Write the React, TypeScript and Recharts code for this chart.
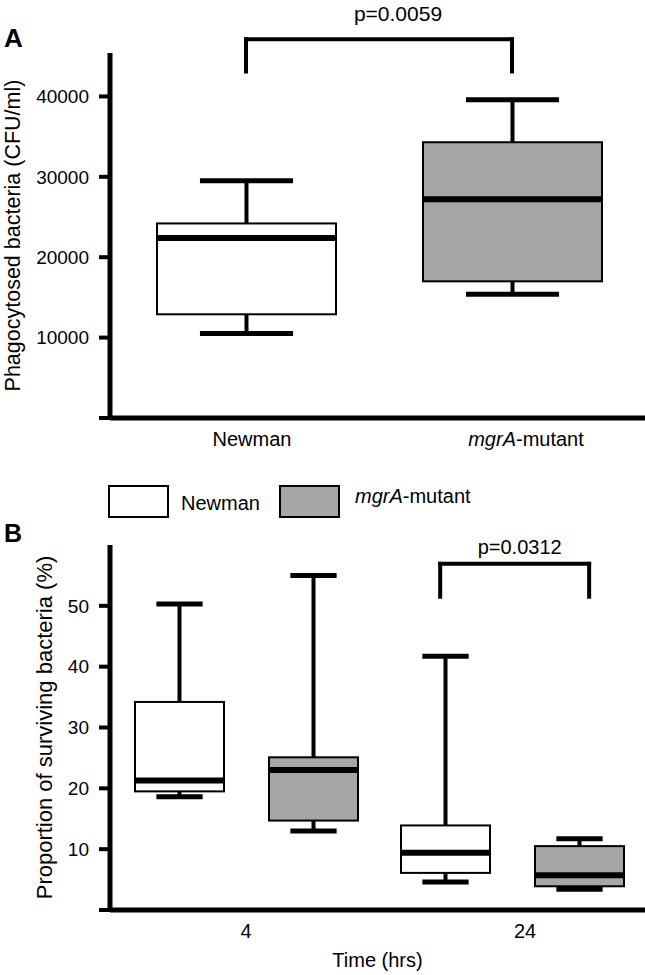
import React from "react";
import { ComposedChart, Bar, XAxis, YAxis, ReferenceLine } from "recharts";

const FONT = "'Liberation Sans', Arial, Helvetica, sans-serif";
const GRAY = "#a6a6a6";

// panel A - phagocytosed bacteria (CFU/ml)
const strainsA = ["Newman", "mgrA-mutant"];
const fillsA = ["#ffffff", GRAY];
const minA = [10500, 15400];
const q1A = [12900, 17000];
const medA = [22400, 27200];
const q3A = [24200, 34300];
const maxA = [29500, 39600];
const ticksA = [0, 10000, 20000, 30000, 40000];

// panel B - surviving bacteria (%)
const timesB = ["4", "24"];
const newmanMinB = [18.6, 4.6];
const newmanQ1B = [19.5, 6.1];
const newmanMedB = [21.3, 9.4];
const newmanQ3B = [34.2, 13.9];
const newmanMaxB = [50.3, 41.7];
const mgraMinB = [13.0, 3.4];
const mgraQ1B = [14.7, 3.9];
const mgraMedB = [23.0, 5.7];
const mgraQ3B = [25.1, 10.5];
const mgraMaxB = [55.0, 11.7];
const ticksB = [0, 10, 20, 30, 40, 50];

const seriesB = [
  { key: "newman", name: "Newman", fill: "#ffffff" },
  { key: "mgra", name: "mgrA-mutant", fill: GRAY },
];

const dataA = strainsA.map((s, i) => ({
  strain: s,
  pos: i + 0.5,
  range: [minA[i], maxA[i]],
  rangeQ: [q1A[i], medA[i], q3A[i]],
  fill: fillsA[i],
}));

const dataB = timesB.map((t, i) => ({
  time: t,
  pos: i + 0.5,
  newman: [newmanMinB[i], newmanMaxB[i]],
  newmanQ: [newmanQ1B[i], newmanMedB[i], newmanQ3B[i]],
  mgra: [mgraMinB[i], mgraMaxB[i]],
  mgraQ: [mgraQ1B[i], mgraMedB[i], mgraQ3B[i]],
}));

// box + whiskers drawn inside the bar's [min, max] rectangle
const boxShape = (key: string, fill?: string) => (props: any) => {
  const { x, y, width, height, payload } = props;
  const [lo, hi] = payload[key];
  const [q1, med, q3] = payload[key + "Q"];
  const py = (v: number) => y + (height * (hi - v)) / (hi - lo);
  const cx = x + width / 2;
  const cap = width * 0.52;
  const f = fill || payload.fill;
  return (
    <g>
      <line x1={cx} x2={cx} y1={py(hi)} y2={py(q3)} stroke="#000" strokeWidth={4} />
      <line x1={cx} x2={cx} y1={py(q1)} y2={py(lo)} stroke="#000" strokeWidth={4} />
      <line x1={cx - cap / 2} x2={cx + cap / 2} y1={py(hi)} y2={py(hi)} stroke="#000" strokeWidth={5} />
      <line x1={cx - cap / 2} x2={cx + cap / 2} y1={py(lo)} y2={py(lo)} stroke="#000" strokeWidth={5} />
      <rect x={x} y={py(q3)} width={width} height={py(q1) - py(q3)} fill={f} stroke="#000" strokeWidth={2} />
      <line x1={x - 1} x2={x + width + 1} y1={py(med)} y2={py(med)} stroke="#000" strokeWidth={6} />
    </g>
  );
};

const strainLabel = (s: string) =>
  s === "mgrA-mutant" ? (
    <>
      <tspan fontStyle="italic">mgrA</tspan>
      <tspan>-mutant</tspan>
    </>
  ) : (
    s
  );

// labels in the figure sit a little right of the category centres
const makeTick = (shift: number[]) => (props: any) => {
  const { x, y, payload, index } = props;
  return (
    <text x={x + (shift[index] || 0)} y={y} dy={20} textAnchor="middle" fontSize={20} fontFamily={FONT} fill="#000">
      {strainLabel(String(payload.value))}
    </text>
  );
};

const yTickStyle = { fontSize: 19, fill: "#000", fontFamily: FONT };
const axisStyle = { stroke: "#000", strokeWidth: 5 };
const tickLineStyle = { stroke: "#000", strokeWidth: 4 };
const bracket = { stroke: "#000", strokeWidth: 4, strokeLinecap: "square" as const };

export default function App() {
  return (
    <div style={{ position: "absolute", left: 0, top: 0, width: 645, height: 975, background: "#fff", fontFamily: FONT }}>
      <div style={{ position: "absolute", left: 0, top: 0 }}>
        <ComposedChart width={645} height={470} data={dataA} margin={{ top: 53, right: 0, bottom: 12, left: 0 }}>
          <XAxis dataKey="strain" padding={{ left: 3, right: 0 }} height={40} tickLine={false} axisLine={axisStyle} tick={makeTick([6, 14])} interval={0} />
          <XAxis xAxisId="n" type="number" dataKey="pos" domain={[0, 2]} padding={{ left: 3, right: 0 }} hide />
          <YAxis
            width={110}
            domain={[0, 45400]}
            allowDataOverflow
            ticks={ticksA}
            tickFormatter={(v: number) => (v === 0 ? "" : String(v))}
            tick={yTickStyle}
            tickSize={11}
            tickMargin={10}
            tickLine={tickLineStyle}
            axisLine={axisStyle}
            label={{ value: "Phagocytosed bacteria (CFU/ml)", angle: -90, position: "insideLeft", offset: 12, fontSize: 21.5, fill: "#000", style: { textAnchor: "middle" } }}
          />
          <Bar dataKey="range" barSize={179} shape={boxShape("range")} isAnimationActive={false} />
          <ReferenceLine xAxisId="n" ifOverflow="visible" segment={[{ x: 0.5, y: 47100 }, { x: 1.5, y: 47100 }]} {...bracket}
            label={{ value: "p=0.0059", position: "top", offset: 18, dx: 19, fontSize: 21, fill: "#000" }} />
          <ReferenceLine xAxisId="n" ifOverflow="visible" segment={[{ x: 0.5, y: 47100 }, { x: 0.5, y: 43100 }]} {...bracket} />
          <ReferenceLine xAxisId="n" ifOverflow="visible" segment={[{ x: 1.5, y: 47100 }, { x: 1.5, y: 43100 }]} {...bracket} />
        </ComposedChart>
      </div>

      <div style={{ position: "absolute", left: 0, top: 440 }}>
        <ComposedChart width={645} height={535} data={dataB} barGap={45} margin={{ top: 105, right: 0, bottom: 5, left: 0 }}>
          <XAxis
            dataKey="time"
            padding={{ left: 3, right: 0 }}
            height={60}
            tickLine={false}
            axisLine={axisStyle}
            tick={makeTick([0, 13])}
            interval={0}
            label={{ value: "Time (hrs)", position: "insideBottom", offset: 3, fontSize: 20, fill: "#000" }}
          />
          <XAxis xAxisId="n" type="number" dataKey="pos" domain={[0, 2]} padding={{ left: 3, right: 0 }} hide />
          <YAxis
            width={110}
            domain={[0, 60]}
            allowDataOverflow
            ticks={ticksB}
            tickFormatter={(v: number) => (v === 0 ? "" : String(v))}
            tick={yTickStyle}
            tickSize={11}
            tickMargin={10}
            tickLine={tickLineStyle}
            axisLine={axisStyle}
            label={{ value: "Proportion of surviving bacteria (%)", angle: -90, position: "insideLeft", offset: 44, fontSize: 22, fill: "#000", style: { textAnchor: "middle" } }}
          />
          {seriesB.map((s) => (
            <Bar key={s.key} dataKey={s.key} name={s.name} fill={s.fill} barSize={89} shape={boxShape(s.key, s.fill)} isAnimationActive={false} />
          ))}
          <ReferenceLine xAxisId="n" ifOverflow="visible" segment={[{ x: 1.23, y: 56.9 }, { x: 1.79, y: 56.9 }]} {...bracket}
            label={{ value: "p=0.0312", position: "top", offset: 10, dx: 5, fontSize: 20, fill: "#000" }} />
          <ReferenceLine xAxisId="n" ifOverflow="visible" segment={[{ x: 1.23, y: 56.9 }, { x: 1.23, y: 51.5 }]} {...bracket} />
          <ReferenceLine xAxisId="n" ifOverflow="visible" segment={[{ x: 1.79, y: 56.9 }, { x: 1.79, y: 51.5 }]} {...bracket} />
        </ComposedChart>
      </div>

      <svg width={645} height={975} style={{ position: "absolute", left: 0, top: 0, pointerEvents: "none" }}>
        <text x={4} y={47} fontSize={26} fontWeight="bold" fontFamily={FONT}>A</text>
        <text x={4} y={542} fontSize={25} fontWeight="bold" fontFamily={FONT}>B</text>
        {seriesB.map((s, i) => (
          <g key={s.key}>
            <rect x={109 + i * 171} y={486} width={59} height={31} fill={s.fill} stroke="#000" strokeWidth={2} />
            <text x={181 + i * 174} y={i === 0 ? 510 : 503} fontSize={20} fontFamily={FONT}>
              {strainLabel(s.name)}
            </text>
          </g>
        ))}
      </svg>
    </div>
  );
}
